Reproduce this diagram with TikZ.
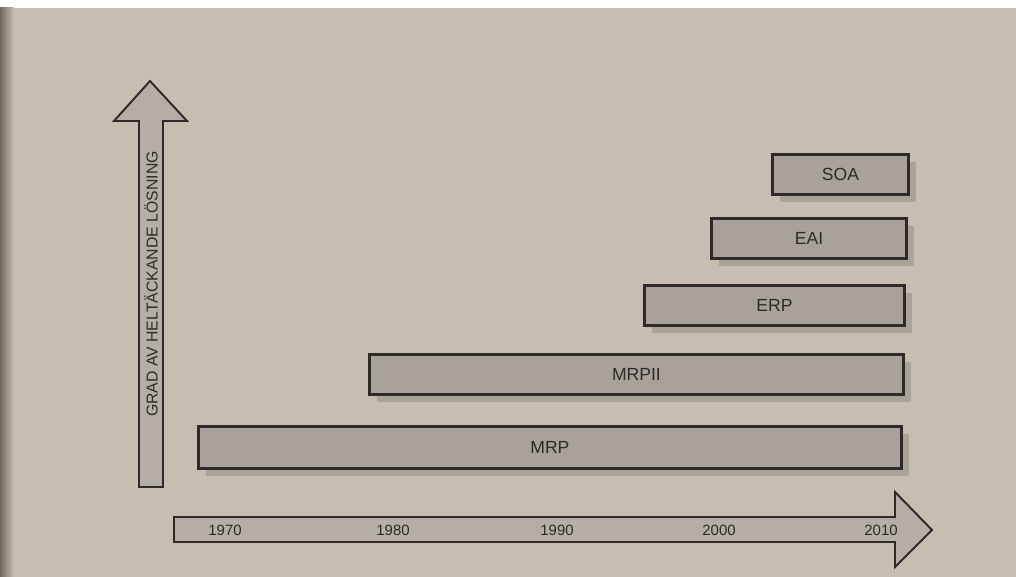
\documentclass[tikz,border=0pt]{standalone}
\usepackage{fontspec}
\setmainfont{Liberation Sans}
\usepackage{tikz}
\usetikzlibrary{shapes,arrows,positioning,shadows}

\definecolor{pagebg}{RGB}{199,190,177}
\definecolor{barfill}{RGB}{168,162,155}
\definecolor{arrowfill}{RGB}{180,174,166}
\definecolor{inkgray}{RGB}{45,42,40}

\begin{document}
\begin{tikzpicture}[x=0.02cm, y=-0.02cm,
                   phase/.style={draw=inkgray, line width=1.7pt, fill=barfill,
                     anchor=north west, minimum height=0.8cm, inner sep=0pt,
                     text=inkgray, font=\fontsize{10}{12}\selectfont,
                     drop shadow={shadow xshift=0.15cm, shadow yshift=-0.15cm,
                       fill=black, opacity=0.14}},
                   axisarrow/.style={draw=inkgray, line width=1.1pt, fill=arrowfill, line join=miter},
                   yearlabel/.style={text=inkgray, font=\fontsize{8.5}{10}\selectfont}]
  % page
  \useasboundingbox (0,0) rectangle (1016,577);
  \fill[pagebg] (0,0) rectangle (1016,577);
  \fill[white] (0,0) rectangle (1016,8);
  \fill[left color=black!45!pagebg, right color=pagebg] (0,8) rectangle (14,577);

  % axes
  \draw[axisarrow] (139,487) -- (139,121) -- (114,121) -- (150,81) -- (187,121)
    -- (163,121) -- (163,487) -- cycle;
  \node[rotate=90, text=inkgray, font=\fontsize{9}{11}\selectfont] (grad) at (151,284)
    {GRAD AV HELTÄCKANDE LÖSNING};
  \draw[axisarrow] (174,517) -- (895,517) -- (895,492) -- (932,530) -- (895,567)
    -- (895,542) -- (174,542) -- cycle;
  \foreach \yr/\xx in {1970/225,1980/393,1990/557,2000/719,2010/881}
    \node[yearlabel] (y\yr) at (\xx,530) {\yr};

  % systems
  \node[phase, minimum width=14.06cm, minimum height=0.84cm] (mrp) at (197,425) {MRP};
  \node[phase, minimum width=10.68cm] (mrpii) at (368,353) {MRPII};
  \node[phase, minimum width=5.2cm] (erp) at (643,284) {ERP};
  \node[phase, minimum width=3.9cm] (eai) at (710,217) {EAI};
  \node[phase, minimum width=2.72cm] (soa) at (771,153) {SOA};
\end{tikzpicture}
\end{document}
